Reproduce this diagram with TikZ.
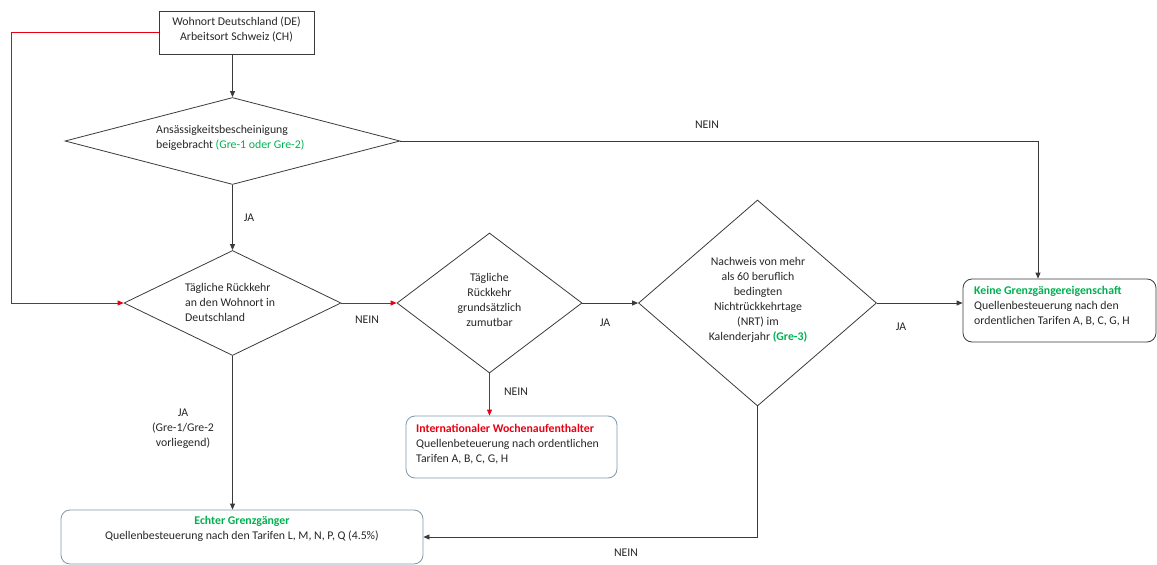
\documentclass[tikz,border=0pt]{standalone}
\usepackage{fontspec}
\setmainfont{Carlito}
\usetikzlibrary{shapes.geometric,arrows.meta}
\definecolor{grn}{HTML}{00B050}
\definecolor{rd}{HTML}{E60012}
\definecolor{ln}{HTML}{3A3A3A}
\definecolor{txt}{HTML}{262626}
\definecolor{bluebd}{HTML}{7F97AC}
\tikzset{
  every node/.style={font=\fontsize{11.8}{15}\selectfont, text=txt},
  dia/.style={shape=diamond, draw=ln, line width=0.8pt, inner sep=0pt},
  sqbox/.style={draw=ln, line width=0.8pt, inner sep=0pt},
  rbox/.style={draw=bluebd, line width=0.8pt, rounded corners=9pt, inner sep=0pt},
  rboxd/.style={draw=ln, line width=0.8pt, rounded corners=9pt, inner sep=0pt},
  arr/.style={draw=ln, line width=0.8pt, -{Triangle[length=6pt,width=5pt]}},
  redarr/.style={draw=rd, line width=0.8pt, -{Triangle[length=6pt,width=5pt]}},
  lbl/.style={inner sep=0pt}
}
\begin{document}
\begin{tikzpicture}[x=1pt,y=-1pt]
\useasboundingbox (0,0) rectangle (1157,565);
% boxes
\node[sqbox, minimum width=155pt, minimum height=43pt] (top) at (236.5,32.5) {};
\node[lbl, align=center] (topt) at (236.5,30) {Wohnort Deutschland (DE)\\Arbeitsort Schweiz (CH)};

\node[dia, minimum width=335pt, minimum height=87pt] (d1) at (232.5,141) {};
\node[lbl, align=left, anchor=west] (d1t) at (156,138) {Ansässigkeitsbescheinigung\\beigebracht {\color{grn}(Gre-1 oder Gre-2)}};

\node[dia, minimum width=217pt, minimum height=105pt] (d2) at (232.5,303) {};
\node[lbl, align=left, anchor=west] (d2t) at (185,302) {Tägliche Rückkehr\\an den Wohnort in\\Deutschland};

\node[dia, minimum width=185pt, minimum height=140pt] (d3) at (489.5,303) {};
\node[lbl, align=center] (d3t) at (489.5,300) {Tägliche\\Rückkehr\\grundsätzlich\\zumutbar};

\node[dia, minimum width=238pt, minimum height=206pt] (d4) at (757.5,303) {};
\node[lbl, align=center] (d4t) at (758,300) {Nachweis von mehr\\als 60 beruflich\\bedingten\\Nichtrückkehrtage\\(NRT) im\\Kalenderjahr {\color{grn}\bfseries(Gre-3)}};

\node[rboxd, minimum width=193pt, minimum height=63pt] (keine) at (1059.5,310.5) {};
\node[lbl, align=left, anchor=west] (keinet) at (974,306) {{\color{grn}\bfseries Keine Grenzgängereigenschaft}\\Quellenbesteuerung nach den\\ordentlichen Tarifen A, B, C, G, H};

\node[rbox, minimum width=211pt, minimum height=62pt] (int) at (511.5,447) {};
\node[lbl, align=left, anchor=west] (intt) at (416,444) {{\color{rd}\bfseries Internationaler Wochenaufenthalter}\\Quellenbeteuerung nach ordentlichen\\Tarifen A, B, C, G, H};

\node[rbox, minimum width=362pt, minimum height=54pt] (echter) at (242,537) {};
\node[lbl, align=center] (echtert) at (242,529) {{\color{grn}\bfseries Echter Grenzgänger}\\Quellenbesteuerung nach den Tarifen L, M, N, P, Q (4.5\%)};

% coordinates
\coordinate (rl) at (11.5,32.5);
\coordinate (k1) at (1038,141);

% connectors
\draw[arr] (d1.north |- top.south) -- (d1.north);
\draw[arr] (d1.south) -- (d2.north);
\draw[redarr] (top.west) -- (rl) |- (d2.west);
\draw[arr] (d1.east) -- (k1) -- (k1 |- keine.north);
\draw[redarr] (d2.east) -- (d3.west);
\draw[arr] (d3.east) -- (d4.west);
\draw[arr] (d4.east) -- (d4.east -| keine.west);
\draw[redarr] (d3.south) -- (d3.south |- int.north);
\draw[arr] (d4.south) |- (echter.east);
\draw[arr] (d2.south) -- (d2.south |- echter.north);

% labels
\node[lbl] (l1) at (707,125) {NEIN};
\node[lbl] (l2) at (249,218) {JA};
\node[lbl] (l3) at (367,320) {NEIN};
\node[lbl] (l4) at (605,323) {JA};
\node[lbl] (l5) at (901,327) {JA};
\node[lbl] (l6) at (516,392) {NEIN};
\node[lbl, align=center] (l7) at (183,429) {JA\\(Gre-1/Gre-2\\vorliegend)};
\node[lbl] (l8) at (626,553) {NEIN};
\end{tikzpicture}
\end{document}
